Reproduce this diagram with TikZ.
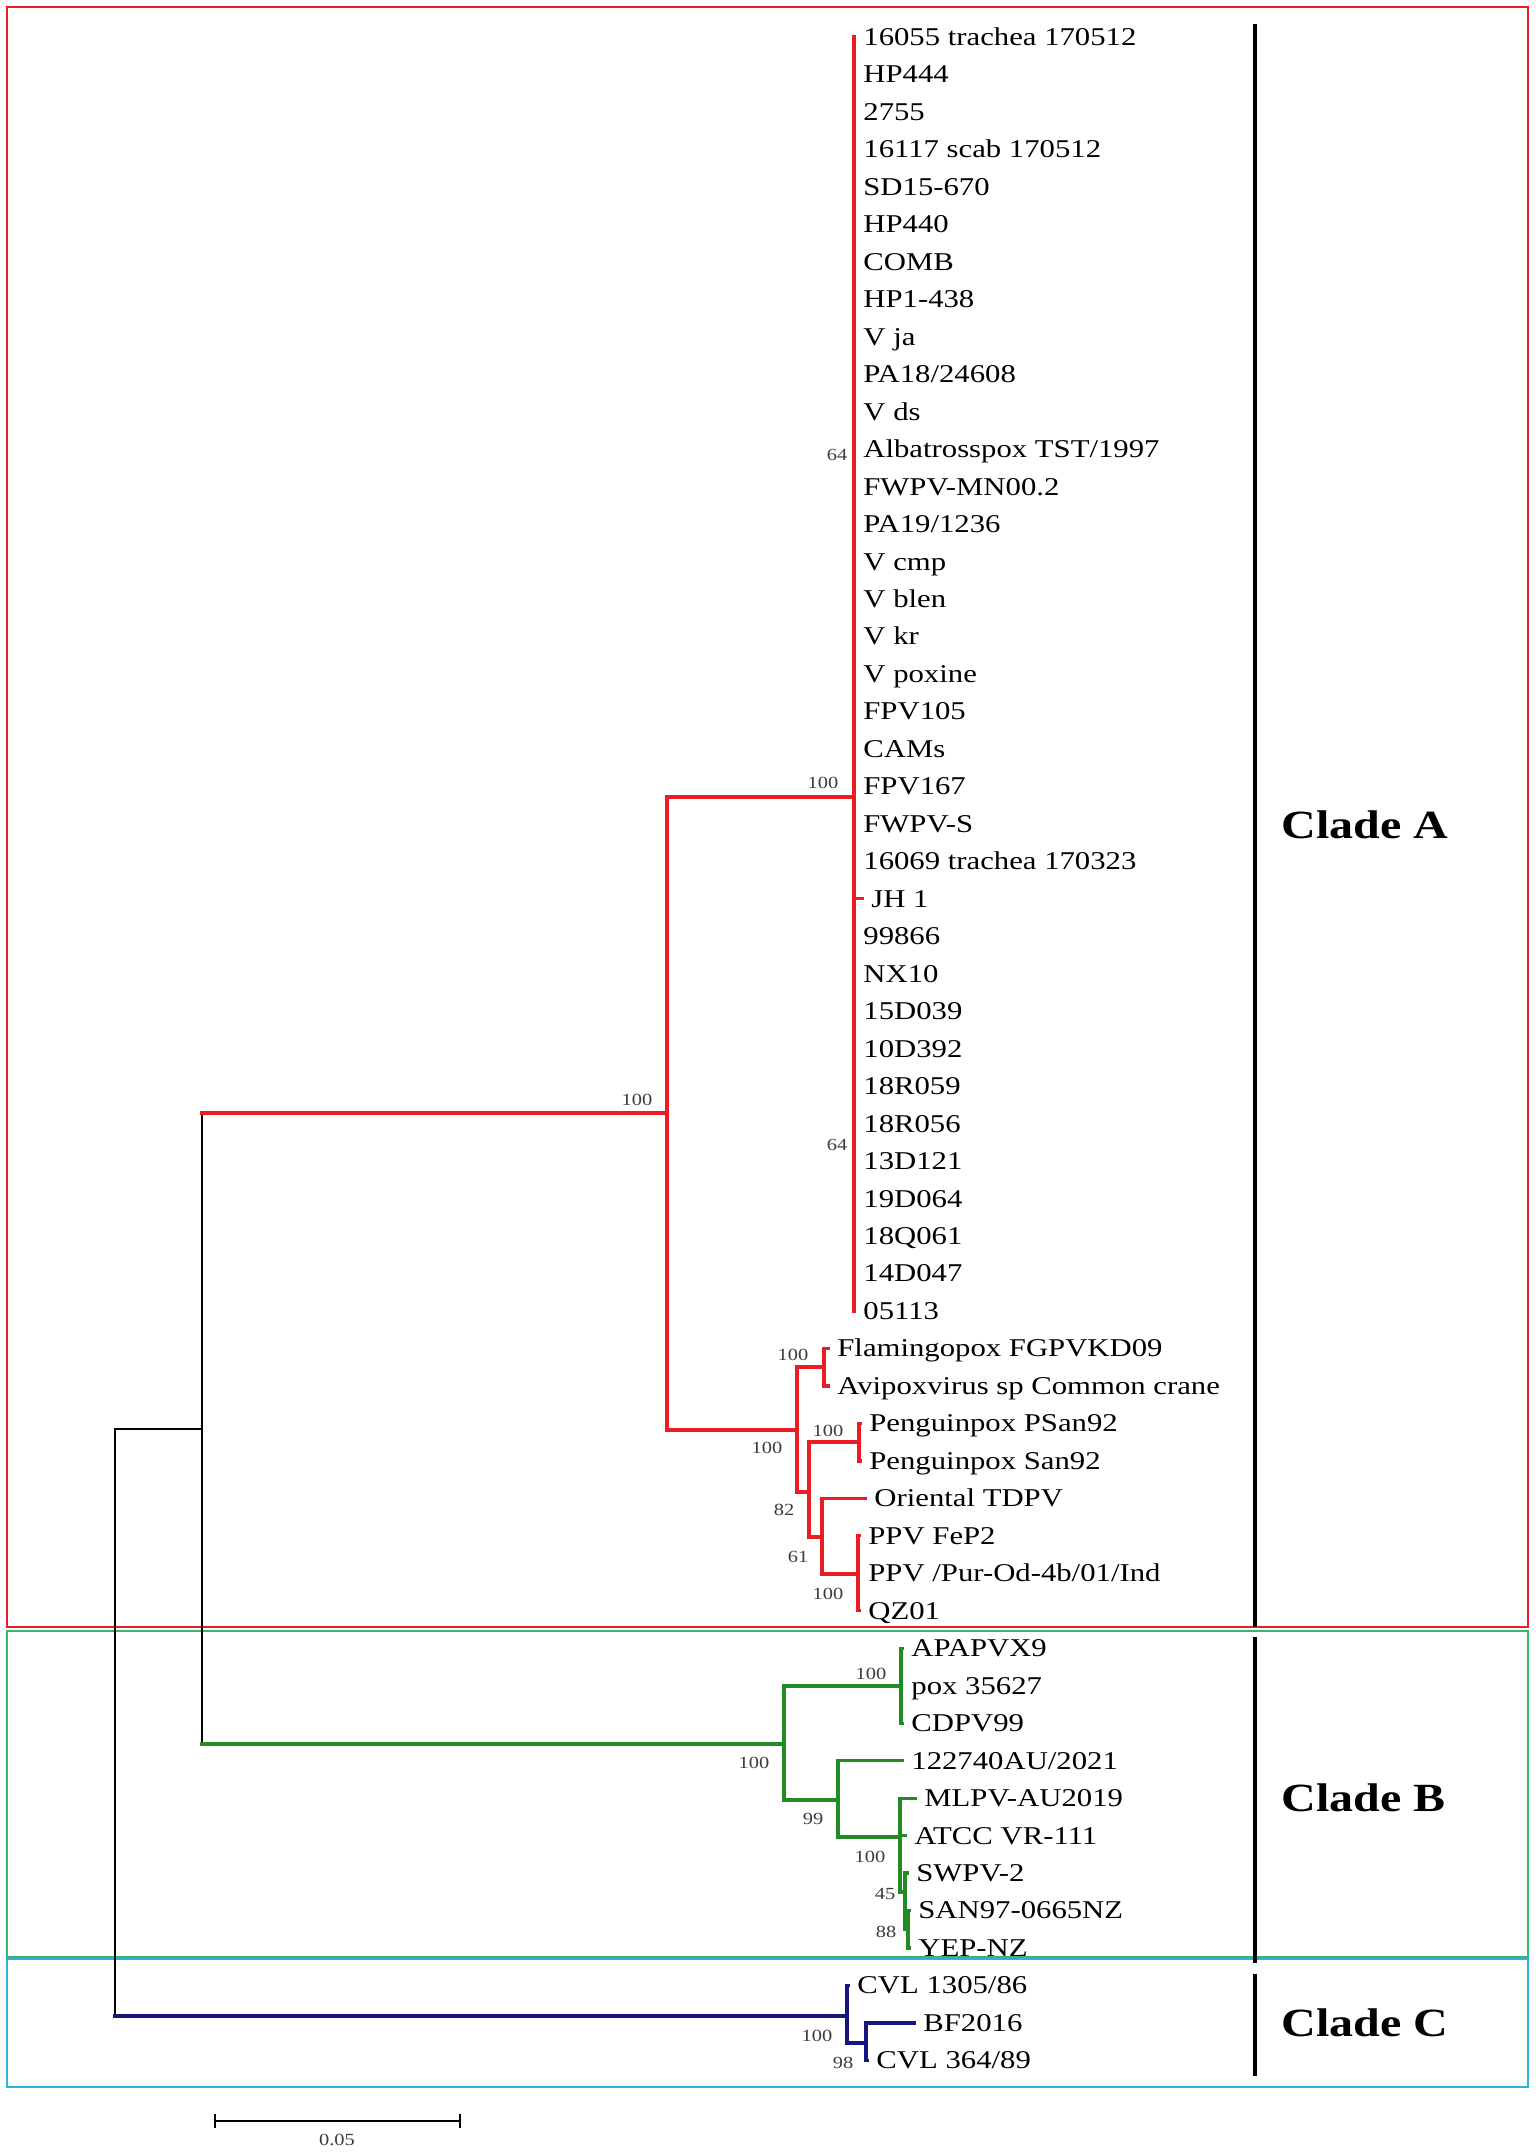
\documentclass[tikz,border=0pt]{standalone}
\usepackage{fontspec}
\setmainfont{Liberation Serif}[FakeStretch=1.2]
\definecolor{treered}{RGB}{235,28,36}
\definecolor{treegreen}{RGB}{34,139,34}
\definecolor{treeblue}{RGB}{22,22,130}
\definecolor{boxgreen}{RGB}{60,179,113}
\definecolor{boxcyan}{RGB}{40,180,220}
\definecolor{bootgray}{RGB}{60,60,60}
\tikzset{
  leaf/.style={anchor=west,inner xsep=4.5pt,inner ysep=0pt,text height=8.4pt,text depth=0pt,font=\fontsize{12.8}{13}\selectfont},
  boot/.style={inner sep=0pt,text=bootgray,font=\fontsize{8.5}{9}\selectfont},
  cladelbl/.style={anchor=west,inner sep=0pt,font=\fontsize{20}{22}\selectfont\bfseries},
  redbr/.style={draw=treered,line width=1.6pt,line cap=rect},
  greenbr/.style={draw=treegreen,line width=1.6pt,line cap=rect},
  bluebr/.style={draw=treeblue,line width=1.6pt,line cap=rect},
  rootbr/.style={draw=black,line width=0.8pt},
  cladebar/.style={draw=black,line width=2pt}
}
\begin{document}
\begin{tikzpicture}[x=0.5pt,y=-0.5pt]
\fill[white] (0,0) rectangle (1536,2152);
\useasboundingbox (0,0) rectangle (1536,2152);
% clade boxes
\draw[treered,line width=1pt] (7,7) rectangle (1528,1627);
\draw[boxgreen,line width=1pt] (7,1631) rectangle (1528,1957);
\draw[boxcyan,line width=1pt] (7,1959) rectangle (1528,2087);
\draw[cladebar] (1255,24) -- (1255,1627);
\draw[cladebar] (1255,1637) -- (1255,1963);
\draw[cladebar] (1255,1974) -- (1255,2076);
\node at (1281,825)[cladelbl](cladeA){Clade A};
\node at (1281,1798)[cladelbl](cladeB){Clade B};
\node at (1281,2023)[cladelbl](cladeC){Clade C};
% leaves, clade A
\node at (854,37)[leaf](l0){16055 trachea 170512};
\node at (854,74.5)[leaf](l1){HP444};
\node at (854,112)[leaf](l2){2755};
\node at (854,149.4)[leaf](l3){16117 scab 170512};
\node at (854,186.9)[leaf](l4){SD15-670};
\node at (854,224.4)[leaf](l5){HP440};
\node at (854,261.8)[leaf](l6){COMB};
\node at (854,299.3)[leaf](l7){HP1-438};
\node at (854,336.8)[leaf](l8){V ja};
\node at (854,374.2)[leaf](l9){PA18/24608};
\node at (854,411.7)[leaf](l10){V ds};
\node at (854,449.2)[leaf](l11){Albatrosspox TST/1997};
\node at (854,486.6)[leaf](l12){FWPV-MN00.2};
\node at (854,524.1)[leaf](l13){PA19/1236};
\node at (854,561.6)[leaf](l14){V cmp};
\node at (854,599.1)[leaf](l15){V blen};
\node at (854,636.5)[leaf](l16){V kr};
\node at (854,674)[leaf](l17){V poxine};
\node at (854,711.5)[leaf](l18){FPV105};
\node at (854,748.9)[leaf](l19){CAMs};
\node at (854,786.4)[leaf](l20){FPV167};
\node at (854,823.9)[leaf](l21){FWPV-S};
\node at (854,861.3)[leaf](l22){16069 trachea 170323};
\node at (862,898.8)[leaf](l23){JH 1};
\node at (854,936.3)[leaf](l24){99866};
\node at (854,973.8)[leaf](l25){NX10};
\node at (854,1011.2)[leaf](l26){15D039};
\node at (854,1048.7)[leaf](l27){10D392};
\node at (854,1086.2)[leaf](l28){18R059};
\node at (854,1123.6)[leaf](l29){18R056};
\node at (854,1161.1)[leaf](l30){13D121};
\node at (854,1198.6)[leaf](l31){19D064};
\node at (854,1236)[leaf](l32){18Q061};
\node at (854,1273.5)[leaf](l33){14D047};
\node at (854,1311)[leaf](l34){05113};
\node at (828,1348.5)[leaf](l35){Flamingopox FGPVKD09};
\node at (828,1385.9)[leaf](l36){Avipoxvirus sp Common crane};
\node at (860,1423.4)[leaf](l37){Penguinpox PSan92};
\node at (860,1460.9)[leaf](l38){Penguinpox San92};
\node at (865,1498.3)[leaf](l39){Oriental TDPV};
\node at (859,1535.8)[leaf](l40){PPV FeP2};
\node at (859,1573.3)[leaf](l41){PPV /Pur-Od-4b/01/Ind};
\node at (859,1610.7)[leaf](l42){QZ01};
% leaves, clade B
\node at (902,1648.2)[leaf](l43){APAPVX9};
\node at (902,1685.7)[leaf](l44){pox 35627};
\node at (902,1723.2)[leaf](l45){CDPV99};
\node at (902,1760.6)[leaf](l46){122740AU/2021};
\node at (915,1798.1)[leaf](l47){MLPV-AU2019};
\node at (905,1835.6)[leaf](l48){ATCC VR-111};
\node at (907,1873)[leaf](l49){SWPV-2};
\node at (909,1910.5)[leaf](l50){SAN97-0665NZ};
\node at (909,1948)[leaf](l51){YEP-NZ};
% leaves, clade C
\node at (848,1985.4)[leaf](l52){CVL 1305/86};
\node at (914,2022.9)[leaf](l53){BF2016};
\node at (867,2060.4)[leaf](l54){CVL 364/89};
% inner nodes
\coordinate (R) at (115,1720);
\coordinate (AB) at (202,1429);
\coordinate (A) at (667,1113);
\coordinate (A1) at (854,797);
\coordinate (A2) at (797,1430);
\coordinate (F) at (824,1367);
\coordinate (A3) at (809,1492);
\coordinate (P) at (859,1442);
\coordinate (A4) at (822,1537);
\coordinate (Q) at (858,1574);
\coordinate (B) at (784,1744);
\coordinate (B1) at (901,1686);
\coordinate (B2) at (838,1800);
\coordinate (B3) at (900,1837);
\coordinate (B4) at (905,1892);
\coordinate (B5) at (908,1929);
\coordinate (C) at (847,2016);
\coordinate (C1) at (866,2043);
% branches
\draw[rootbr] (AB) -| (R) -- (R |- C);
\draw[rootbr] (AB |- A) -- (AB |- B);
\draw[redbr] (AB |- A) -- (A);
\draw[greenbr] (AB |- B) -- (B);
\draw[bluebr] (R |- C) -- (C);
\draw[redbr] (A1) -| (A) |- (A2);
\draw[redbr] (l0.west) -- (l34.west);
\draw[redbr] (l0.west |- l23.west) -- (l23.west);
\draw[redbr] (F) -| (A2) |- (A3);
\draw[redbr] (l35.west) -| (F) |- (l36.west);
\draw[redbr] (P) -| (A3) |- (A4);
\draw[redbr] (l37.west) -| (P) |- (l38.west);
\draw[redbr] (l39.west) -| (A4) |- (Q);
\draw[redbr] (l40.west) -| (Q) |- (l42.west);
\draw[greenbr] (B1) -| (B) |- (B2);
\draw[greenbr] (l43.west) -| (B1) |- (l45.west);
\draw[greenbr] (l46.west) -| (B2) |- (B3);
\draw[greenbr] (l47.west) -| (B3) |- (B4);
\draw[greenbr] (B3 |- l48.west) -- (l48.west);
\draw[greenbr] (l49.west) -| (B4) |- (B5);
\draw[greenbr] (l50.west) -| (B5) |- (l51.west);
\draw[bluebr] (l52.west) -| (C) |- (C1);
\draw[bluebr] (l53.west) -| (C1) |- (l54.west);
% bootstrap values
\node at (837,455)[boot](b1){64};
\node at (823,783)[boot](b2){100};
\node at (837,1145)[boot](b3){64};
\node at (637,1100)[boot](b4){100};
\node at (793,1355)[boot](b5){100};
\node at (767,1448)[boot](b6){100};
\node at (828,1431)[boot](b7){100};
\node at (784,1510)[boot](b8){82};
\node at (798,1557)[boot](b9){61};
\node at (828,1594)[boot](b10){100};
\node at (754,1763)[boot](b11){100};
\node at (871,1674)[boot](b12){100};
\node at (813,1819)[boot](b13){99};
\node at (870,1857)[boot](b14){100};
\node at (885,1894)[boot](b15){45};
\node at (886,1932)[boot](b16){88};
\node at (817,2036)[boot](b17){100};
\node at (843,2063)[boot](b18){98};
% scale bar
\coordinate (sb1) at (215,2121);
\coordinate (sb2) at (460,2121);
\draw[black,line width=0.7pt] (sb1) -- (sb2);
\draw[black,line width=0.7pt] ([yshift=3.5pt]sb1) -- ([yshift=-3.5pt]sb1);
\draw[black,line width=0.7pt] ([yshift=3.5pt]sb2) -- ([yshift=-3.5pt]sb2);
\node at (337,2140)[boot](sblbl){0.05};
\end{tikzpicture}
\end{document}
